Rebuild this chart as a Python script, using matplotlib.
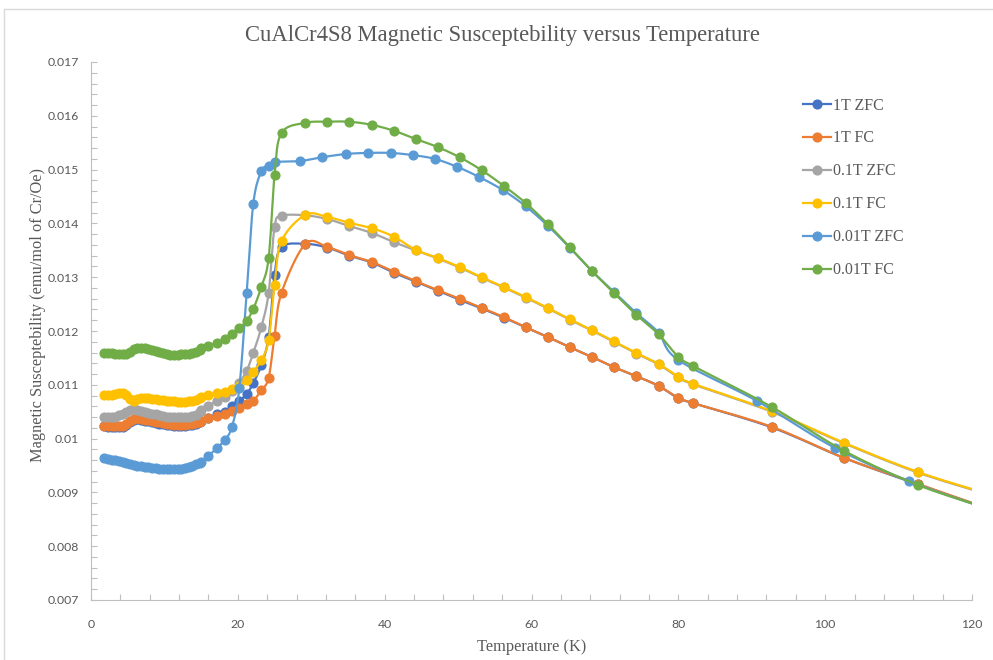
import numpy as np
import matplotlib.pyplot as plt
from matplotlib.patches import Rectangle

plt.rcParams["font.family"] = "Liberation Serif"

# --- Data ---
# shared low-temperature sweep (dense points)
t_low = [1.8, 2.3, 2.8, 3.3, 3.8, 4.3, 4.8, 5.3, 5.8, 6.3, 6.8, 7.3, 7.8, 8.3,
         8.8, 9.3, 9.8, 10.3, 10.8, 11.3, 11.8, 12.3, 12.8, 13.3, 13.8, 14.3, 14.8]
# transition region
t_mid = [15.0, 16.0, 17.1, 18.2, 19.2, 20.2, 21.2, 22.1, 23.2, 24.2, 25.0, 25.95]
# high-temperature points (last one lies just beyond the axis edge)
t_high = [29.2, 32.2, 35.2, 38.3, 41.3, 44.2, 47.2, 50.2, 53.2, 56.2, 59.2, 62.2,
          65.2, 68.2, 71.2, 74.3, 77.3, 80.0, 82.0, 92.7, 102.6, 112.6, 122.0]
t_zfc001_mid = [15.0, 16.0, 17.1, 18.2, 19.2, 20.2, 21.2, 22.1, 23.2, 24.2, 25.0]
t_zfc001_high = [28.5, 31.5, 34.7, 37.7, 40.8, 43.8, 46.8, 49.9, 52.9, 56.1, 59.2,
                 62.2, 65.2, 68.2, 71.2, 74.3, 77.3, 80.0, 90.7, 101.3, 111.4, 122.0]

zfc_1t = [0.01023, 0.01022, 0.01022, 0.01021, 0.01021, 0.01022, 0.01025, 0.01031, 0.01035,
          0.01036, 0.01035, 0.01033, 0.01032, 0.01030, 0.01029, 0.01028, 0.01027, 0.01026,
          0.01025, 0.01024, 0.01024, 0.01024, 0.01024, 0.01025, 0.01026, 0.01028, 0.01031,
          0.01033, 0.01039, 0.01045, 0.01050, 0.01061, 0.01070, 0.01083, 0.01103, 0.01137,
          0.01189, 0.01304, 0.01356,
          0.01362, 0.01355, 0.01340, 0.01327, 0.01308, 0.01292, 0.01275, 0.01258, 0.01242,
          0.01225, 0.01207, 0.01189, 0.01170, 0.01152, 0.01133, 0.01116, 0.01098, 0.01075,
          0.01066, 0.01021, 0.00964, 0.00915, 0.00871]
fc_1t = [0.01023, 0.01023, 0.01023, 0.01023, 0.01023, 0.01024, 0.01027, 0.01033, 0.01037,
         0.01038, 0.01037, 0.01035, 0.01034, 0.01032, 0.01031, 0.01030, 0.01029, 0.01028,
         0.01027, 0.01026, 0.01026, 0.01026, 0.01026, 0.01027, 0.01028, 0.01029, 0.01031,
         0.01033, 0.01038, 0.01042, 0.01045, 0.01051, 0.01057, 0.01064, 0.01070, 0.01090,
         0.01113, 0.01191, 0.01271,
         0.01362, 0.01356, 0.01341, 0.01328, 0.01310, 0.01293, 0.01276, 0.01260, 0.01243,
         0.01226, 0.01207, 0.01189, 0.01170, 0.01152, 0.01133, 0.01116, 0.01098, 0.01076,
         0.01066, 0.01022, 0.00964, 0.00916, 0.00871]
zfc_01t = [0.01040, 0.01040, 0.01040, 0.01041, 0.01043, 0.01046, 0.01050, 0.01053, 0.01055,
           0.01054, 0.01052, 0.01050, 0.01048, 0.01046, 0.01045, 0.01043, 0.01042, 0.01041,
           0.01040, 0.01040, 0.01040, 0.01040, 0.01041, 0.01041, 0.01042, 0.01044, 0.01050,
           0.01053, 0.01061, 0.01070, 0.01077, 0.01088, 0.01104, 0.01126, 0.01159, 0.01207,
           0.01271, 0.01393, 0.01414,
           0.01415, 0.01408, 0.01395, 0.01382, 0.01365, 0.01350, 0.01335, 0.01318, 0.01299,
           0.01281, 0.01262, 0.01242, 0.01221, 0.01201, 0.01180, 0.01158, 0.01138, 0.01114,
           0.01101, 0.01050, 0.00991, 0.00937, 0.00897]
fc_01t = [0.01081, 0.01081, 0.01081, 0.01082, 0.01084, 0.01084, 0.01081, 0.01073, 0.01069,
          0.01074, 0.01076, 0.01076, 0.01075, 0.01074, 0.01073, 0.01072, 0.01071, 0.01070,
          0.01069, 0.01069, 0.01068, 0.01068, 0.01068, 0.01069, 0.01070, 0.01072, 0.01075,
          0.01077, 0.01081, 0.01085, 0.01087, 0.01092, 0.01098, 0.01109, 0.01124, 0.01146,
          0.01183, 0.01286, 0.01367,
          0.01416, 0.01412, 0.01401, 0.01391, 0.01375, 0.01351, 0.01336, 0.01319, 0.01300,
          0.01282, 0.01263, 0.01243, 0.01222, 0.01202, 0.01181, 0.01159, 0.01139, 0.01115,
          0.01102, 0.01051, 0.00992, 0.00938, 0.00898]
zfc_001t = [0.00964, 0.00962, 0.00961, 0.00960, 0.00959, 0.00957, 0.00955, 0.00953, 0.00951,
            0.00950, 0.00949, 0.00948, 0.00947, 0.00946, 0.00945, 0.00944, 0.00943, 0.00943,
            0.00943, 0.00943, 0.00943, 0.00944, 0.00945, 0.00947, 0.00949, 0.00952, 0.00955,
            0.00957, 0.00968, 0.00982, 0.00997, 0.01022, 0.01094, 0.01271, 0.01436, 0.01497,
            0.01507, 0.01514,
            0.01516, 0.01523, 0.01529, 0.01531, 0.01531, 0.01527, 0.01520, 0.01505, 0.01486,
            0.01462, 0.01432, 0.01396, 0.01355, 0.01312, 0.01273, 0.01233, 0.01197, 0.01146,
            0.01070, 0.00983, 0.00921, 0.00870]
fc_001t = [0.01159, 0.01159, 0.01159, 0.01158, 0.01158, 0.01157, 0.01158, 0.01161, 0.01166,
           0.01169, 0.01169, 0.01168, 0.01166, 0.01164, 0.01162, 0.01161, 0.01159, 0.01158,
           0.01156, 0.01155, 0.01156, 0.01157, 0.01157, 0.01158, 0.01159, 0.01161, 0.01165,
           0.01168, 0.01172, 0.01178, 0.01185, 0.01195, 0.01206, 0.01219, 0.01241, 0.01282,
           0.01336, 0.01490, 0.01568,
           0.01587, 0.01589, 0.01589, 0.01583, 0.01572, 0.01557, 0.01542, 0.01523, 0.01499,
           0.01470, 0.01438, 0.01399, 0.01356, 0.01312, 0.01271, 0.01230, 0.01194, 0.01152,
           0.01135, 0.01059, 0.00977, 0.00914, 0.00871]

labels = ["1T ZFC", "1T FC", "0.1T ZFC", "0.1T FC", "0.01T ZFC", "0.01T FC"]
colors = ["#4472C4", "#ED7D31", "#A5A5A5", "#FFC000", "#5B9BD5", "#70AD47"]

t_std = t_low + t_mid + t_high
t_zfc001 = t_low + t_zfc001_mid + t_zfc001_high
series = [(t_std, zfc_1t), (t_std, fc_1t), (t_std, zfc_01t), (t_std, fc_01t),
          (t_zfc001, zfc_001t), (t_std, fc_001t)]

x_ticks = [0, 20, 40, 60, 80, 100, 120]
y_ticks = [0.007, 0.008, 0.009, 0.01, 0.011, 0.012, 0.013, 0.014, 0.015, 0.016, 0.017]
y_tick_labels = ["0.007", "0.008", "0.009", "0.01", "0.011", "0.012", "0.013", "0.014",
                 "0.015", "0.016", "0.017"]


def smooth(x, y, n=10):
    """Excel-like smoothed line (Catmull-Rom Bezier through the points)."""
    x = np.asarray(x, float)
    y = np.asarray(y, float)
    px = np.concatenate([[x[0]], x, [x[-1]]])
    py = np.concatenate([[y[0]], y, [y[-1]]])
    s = np.linspace(0, 1, n, endpoint=False)[:, None]
    xs, ys = [], []
    for i in range(1, len(px) - 2):
        p0 = np.array([px[i - 1], py[i - 1]])
        p1 = np.array([px[i], py[i]])
        p2 = np.array([px[i + 1], py[i + 1]])
        p3 = np.array([px[i + 2], py[i + 2]])
        c1 = p1 + (p2 - p0) / 6
        c2 = p2 - (p3 - p1) / 6
        b = ((1 - s) ** 3) * p1 + 3 * ((1 - s) ** 2) * s * c1 + 3 * (1 - s) * s ** 2 * c2 + s ** 3 * p2
        xs.append(b[:, 0])
        ys.append(b[:, 1])
    xs.append([x[-1]])
    ys.append([y[-1]])
    return np.concatenate(xs), np.concatenate(ys)


fig = plt.figure(figsize=(9.93, 6.6), dpi=100)
fig.patch.set_facecolor("white")
# thin frame of the chart area, like the Excel screenshot
fig.patches.append(Rectangle((4 / 993, -0.02), 1.1, 1 - 9 / 660 + 0.02,
                             transform=fig.transFigure, facecolor="none",
                             edgecolor="#d9d9d9", linewidth=1))
ax = fig.add_axes([91 / 993, 1 - 600 / 660, (972 - 91) / 993, (600 - 62) / 660])

for (t, v), lab, col in zip(series, labels, colors):
    sx, sy = smooth(t, v)
    ax.plot(sx, sy, color=col, linewidth=1.6, solid_capstyle="round", zorder=2)
    ax.plot(t, v, linestyle="none", marker="o", markersize=6.3, color=col, zorder=2)
    ax.plot([], [], color=col, linewidth=1.6, marker="o", markersize=6.3, label=lab)

ax.set_xlim(0, 120)
ax.set_ylim(0.007, 0.017)
ax.set_xticks(x_ticks)
ax.set_xticks(np.arange(0, 121, 4), minor=True)
ax.set_yticks(y_ticks)
ax.set_yticklabels(y_tick_labels)
ax.set_yticks(np.arange(0.007, 0.01701, 0.0002), minor=True)
ax.tick_params(which="both", direction="in", length=4, color="#bfbfbf", width=0.8)
ax.tick_params(axis="both", which="major", labelsize=8.8, labelcolor="#595959")
ax.tick_params(axis="x", which="major", pad=14)
ax.tick_params(axis="y", which="major", pad=9)
for lbl in ax.get_xticklabels() + ax.get_yticklabels():
    lbl.set_fontfamily("Lato")

for side in ["top", "right"]:
    ax.spines[side].set_visible(False)
for side in ["left", "bottom"]:
    ax.spines[side].set_color("#bfbfbf")
    ax.spines[side].set_linewidth(0.8)

ax.set_xlabel("Temperature (K)", fontsize=11.8, color="#595959", labelpad=6)
ax.set_ylabel("Magnetic Susceptebility (emu/mol of Cr/Oe)", fontsize=11.8, color="#595959")
ax.yaxis.set_label_coords((46 - 91) / 881, 0.53)
fig.text(0.506, 1 - 36 / 660, "CuAlCr4S8 Magnetic Susceptebility versus Temperature",
         ha="center", va="center", fontsize=16.3, color="#595959")

leg = ax.legend(loc="upper left", bbox_to_anchor=(0.808, 0.934), frameon=False,
                fontsize=11.5, handlelength=1.75, handletextpad=0.15, labelspacing=1.06,
                borderaxespad=0, borderpad=0)
for txt in leg.get_texts():
    txt.set_color("#595959")

fig.savefig("out.png", dpi=100, facecolor="white")
